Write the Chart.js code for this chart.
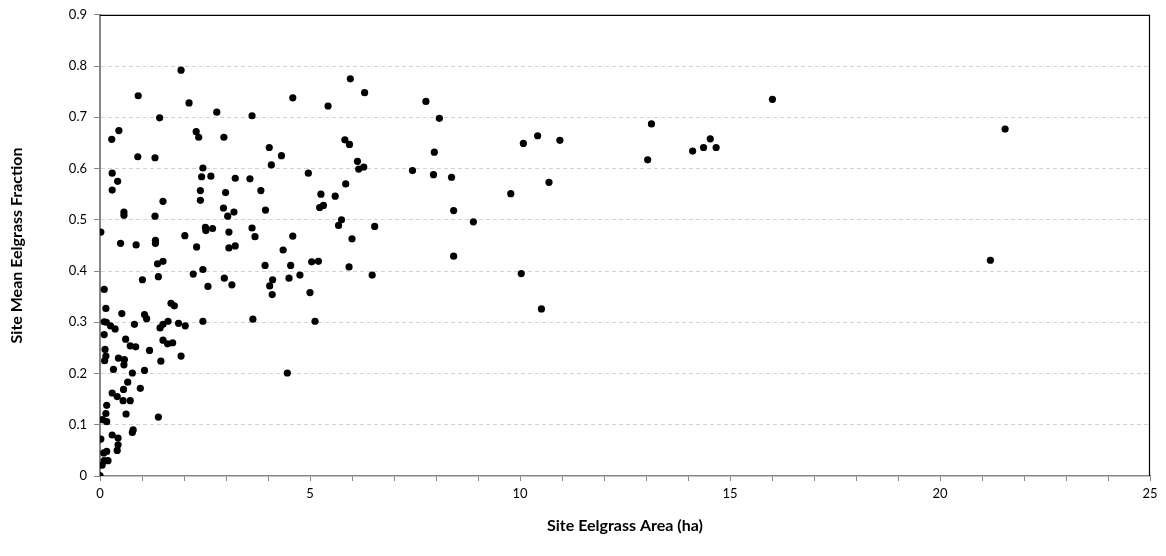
<!DOCTYPE html>
<html>
<head>
<meta charset="utf-8">
<script src="https://cdn.jsdelivr.net/npm/chart.js@4"></script>
<style>
  html, body { margin: 0; padding: 0; background: #fff; }
  #wrap { width: 1166px; height: 556px; }
</style>
</head>
<body>
<div id="wrap"><canvas id="c" width="1166" height="556"></canvas></div>
<script>
// Site eelgrass area (ha)
const areaHa = [
  1.93, 0.91, 2.12, 2.78, 3.62, 1.42, 0.45, 0.28, 2.29, 2.35,
  2.95, 4.03, 4.32, 0.90, 1.31, 4.08, 0.29, 0.42, 0.29, 2.45,
  2.42, 2.64, 3.22, 3.57, 3.83, 2.39, 2.99, 2.39, 1.50, 2.94,
  3.94, 3.19, 3.04, 1.31, 0.02, 2.51, 2.52, 2.68, 2.02, 3.07,
  3.62, 3.69, 0.49, 0.86, 1.32, 1.32, 2.30, 3.07, 3.22, 4.36,
  0.57, 0.57, 4.59,
  1.37, 1.50, 3.93, 4.54, 2.22, 2.45, 1.01, 1.39, 2.96, 3.14,
  2.57, 4.11, 4.04, 4.10, 4.50, 0.10, 0.14, 0.52, 1.06, 1.11,
  1.69, 1.77, 2.45, 3.64, 0.10, 0.15, 0.25, 0.36, 0.82, 1.43,
  1.50, 1.62, 1.87, 2.03, 0.10, 0.61, 1.50, 1.61, 1.73, 0.72,
  0.85, 1.18, 1.93, 0.12, 0.14, 0.11, 0.44, 0.58, 0.57, 1.45,
  0.32, 1.06, 0.77, 0.66, 0.56, 0.96, 0.29, 0.41, 0.55, 0.72,
  0.16, 0.14, 0.62, 1.39, 0.06, 0.16, 0.79, 0.77, 0.29, 0.43,
  0.02, 0.43, 0.41, 0.09, 0.16, 0.05, 0.10, 0.19, 0.00, 4.46,
  5.96, 6.30, 5.43, 7.76, 8.08, 10.08, 5.83, 5.94, 7.96, 6.13,
  6.16, 6.28, 4.96, 7.44, 7.94, 8.37, 5.85, 5.26, 5.60, 9.78,
  5.23, 5.32, 8.42, 5.75, 5.68, 6.54, 8.89, 4.59, 6.00,
  5.04, 5.20, 4.76, 5.93, 6.48, 8.42, 10.03, 5.00, 5.12,
  10.42, 10.95, 10.69, 10.51, 13.13, 13.04, 14.11, 14.37, 14.53, 14.67,
  16.01, 21.55, 21.20
];
// Site mean eelgrass fraction
const meanFraction = [
  0.792, 0.742, 0.728, 0.710, 0.703, 0.699, 0.674, 0.657, 0.672, 0.661,
  0.661, 0.641, 0.625, 0.623, 0.621, 0.607, 0.591, 0.575, 0.558, 0.601,
  0.584, 0.585, 0.581, 0.580, 0.557, 0.557, 0.553, 0.538, 0.536, 0.523,
  0.519, 0.515, 0.507, 0.507, 0.476, 0.485, 0.479, 0.483, 0.469, 0.476,
  0.484, 0.467, 0.454, 0.451, 0.460, 0.454, 0.447, 0.445, 0.449, 0.441,
  0.515, 0.509, 0.738,
  0.414, 0.419, 0.411, 0.411, 0.394, 0.403, 0.383, 0.389, 0.386, 0.373,
  0.370, 0.383, 0.371, 0.354, 0.386, 0.364, 0.327, 0.317, 0.315, 0.307,
  0.337, 0.332, 0.302, 0.306, 0.301, 0.300, 0.293, 0.287, 0.296, 0.289,
  0.296, 0.302, 0.298, 0.293, 0.276, 0.267, 0.265, 0.258, 0.260, 0.254,
  0.252, 0.245, 0.234, 0.247, 0.234, 0.225, 0.230, 0.227, 0.217, 0.224,
  0.208, 0.206, 0.201, 0.183, 0.169, 0.171, 0.162, 0.155, 0.147, 0.147,
  0.138, 0.122, 0.121, 0.115, 0.110, 0.106, 0.090, 0.085, 0.080, 0.074,
  0.072, 0.061, 0.050, 0.045, 0.048, 0.021, 0.030, 0.030, 0.001, 0.201,
  0.775, 0.748, 0.722, 0.731, 0.698, 0.649, 0.656, 0.647, 0.632, 0.614,
  0.599, 0.603, 0.591, 0.596, 0.588, 0.583, 0.570, 0.550, 0.546, 0.551,
  0.524, 0.528, 0.518, 0.500, 0.489, 0.487, 0.496, 0.468, 0.463,
  0.418, 0.419, 0.392, 0.408, 0.392, 0.429, 0.395, 0.358, 0.302,
  0.664, 0.655, 0.573, 0.326, 0.687, 0.617, 0.634, 0.641, 0.658, 0.641,
  0.735, 0.677, 0.421
];
const xTitle = 'Site Eelgrass Area (ha)';
const yTitle = 'Site Mean Eelgrass Fraction';
const xMin = 0, xMax = 25, xLabelStep = 5;
const yMin = 0, yMax = 0.9, yStep = 0.1;

const points = areaHa.map((x, i) => ({ x: x, y: meanFraction[i] }));

const frame = {
  id: 'frame',
  afterDatasetsDraw(chart) {
    const a = chart.chartArea, ctx = chart.ctx;
    ctx.save();
    ctx.strokeStyle = '#000';
    ctx.lineWidth = 1.2;
    ctx.beginPath();
    ctx.moveTo(a.left, a.top + 0.5);
    ctx.lineTo(a.right, a.top + 0.5);
    ctx.moveTo(a.right - 0.5, a.top);
    ctx.lineTo(a.right - 0.5, a.bottom);
    ctx.stroke();
    ctx.restore();
  }
};

const tickFont = { family: 'Lato, "Open Sans", sans-serif', size: 13 };
const titleFont = { family: 'Lato, "Open Sans", sans-serif', size: 16, weight: 'bold' };

new Chart(document.getElementById('c'), {
  type: 'scatter',
  data: {
    datasets: [{
      data: points,
      pointRadius: 3.6,
      pointHoverRadius: 3.6,
      backgroundColor: '#000',
      borderWidth: 0
    }]
  },
  options: {
    responsive: false,
    devicePixelRatio: 1,
    animation: false,
    layout: { padding: { top: 13, right: 16, left: 0, bottom: 0 } },
    plugins: { legend: { display: false }, tooltip: { enabled: false } },
    scales: {
      x: {
        type: 'linear', min: xMin, max: xMax,
        afterFit(s) { s.height = 80; },
        ticks: {
          stepSize: 1, autoSkip: false, maxRotation: 0, padding: 5,
          color: '#000', font: tickFont,
          callback: v => (v % xLabelStep === 0 ? String(v) : '')
        },
        grid: { drawOnChartArea: false, drawTicks: true, tickLength: 5, tickColor: '#868686', tickBorderDash: [] },
        border: { color: '#868686', width: 1.5 },
        title: { display: true, text: xTitle, color: '#000', font: titleFont, padding: { top: 0, bottom: 21 } }
      },
      y: {
        type: 'linear', min: yMin, max: yMax,
        afterFit(s) { s.width = 100; },
        ticks: {
          stepSize: yStep, padding: 7, color: '#000', font: tickFont,
          callback: v => (Math.abs(v) < 1e-9 ? '0' : Number(v).toFixed(1))
        },
        grid: {
          color: c => (c.tick && (Math.abs(c.tick.value) < 1e-9 || Math.abs(c.tick.value - yMax) < 1e-9) ? 'rgba(0,0,0,0)' : '#d4d4d4'),
          lineWidth: 1, tickLength: 6, tickColor: '#868686', tickBorderDash: []
        },
        border: { color: '#868686', width: 2, dash: [4, 3] },
        title: { display: true, text: yTitle, color: '#000', font: titleFont, padding: { top: 7, bottom: 0 } }
      }
    }
  },
  plugins: [frame]
});
</script>
</body>
</html>
